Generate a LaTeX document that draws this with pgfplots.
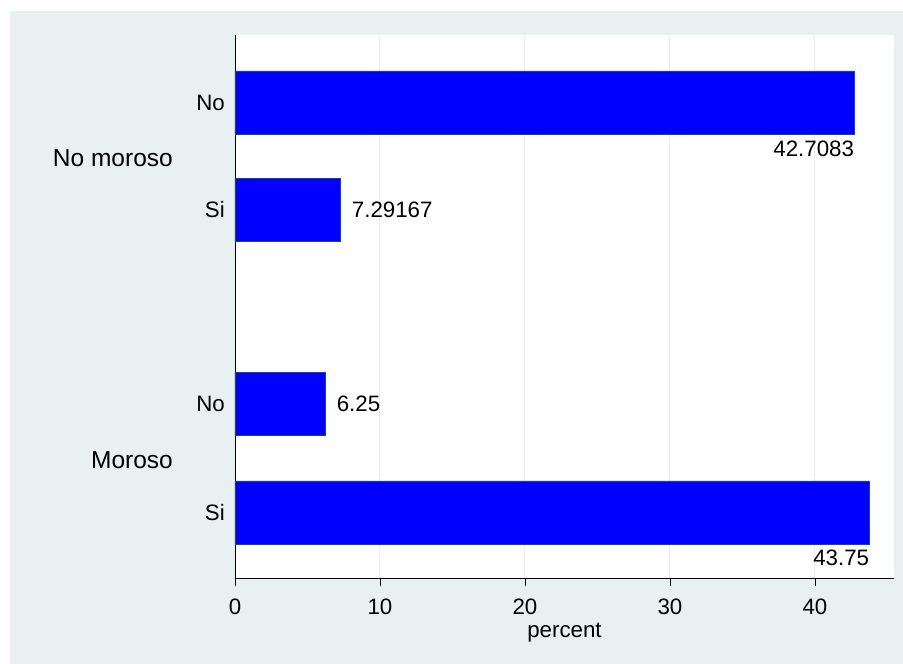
\documentclass[border=0pt]{standalone}
\usepackage{pgfplots}
\pgfplotsset{compat=1.18}
\usepackage{fontspec}
\setmainfont{Liberation Sans}
\definecolor{bg}{RGB}{232,240,242}
\definecolor{gridc}{RGB}{228,236,240}
\definecolor{edge}{RGB}{26,71,111}
\begin{document}
\fontsize{22.3}{27}\selectfont
\begin{tikzpicture}[x=1pt,y=1pt]
\fill[white] (0,0) rectangle (903,664);
\fill[bg] (10,0) rectangle (903,653);
\begin{axis}[
 at={(235pt,86pt)}, anchor=south west,
 scale only axis, width=659pt, height=543pt,
 xmin=0, xmax=45.45, ymin=0, ymax=543,
 axis x line*=bottom, axis y line*=left,
 axis line style={black, line width=0.8pt, -},
 axis background/.style={fill=white},
 xtick={0,10,20,30,40},
 ytick={65.5,174,368,475.5},
 yticklabels={Si,No,Si,No},
 ytick style={draw=none},
 xtick style={black, line width=0.8pt},
 tick align=outside,
 major tick length=8pt,
 xmajorgrids, grid style={gridc, line width=1pt},
 /pgf/number format/assume math mode=true,
 xticklabel style={anchor=base, inner sep=0pt, yshift=-29pt},
 yticklabel style={anchor=east, inner sep=0pt, xshift=-2pt},
 xlabel={percent},
 xlabel style={at={(axis description cs:0.5,0)}, anchor=base, inner sep=0pt, yshift=-60pt},
 clip=false,
]
\addplot[xbar, bar shift=0pt, bar width=63, fill=blue, draw=edge, line width=0.6pt]
  coordinates {(42.7083,475.5) (7.29167,368) (6.25,174) (43.75,65.5)};
\addplot[draw=none, nodes near coords, point meta=explicit symbolic,
  every node near coord/.append style={anchor=west, inner sep=0pt, xshift=11pt}]
  coordinates {(7.29167,368)[7.29167] (6.25,174)[6.25]};
\addplot[draw=none, nodes near coords, point meta=explicit symbolic,
  every node near coord/.append style={anchor=east, inner sep=0pt}]
  coordinates {(42.7083,429)[42.7083] (43.75,20.5)[43.75]};
\node[anchor=east, inner sep=0pt, xshift=-62pt, font=\fontsize{24.5}{29}\selectfont] at (axis cs:0,420) {No moroso};
\node[anchor=east, inner sep=0pt, xshift=-62pt, font=\fontsize{24.5}{29}\selectfont] at (axis cs:0,118) {Moroso};
\end{axis}
\pgfresetboundingbox
\path[use as bounding box] (0,0) rectangle (903,664);
\end{tikzpicture}
\end{document}
